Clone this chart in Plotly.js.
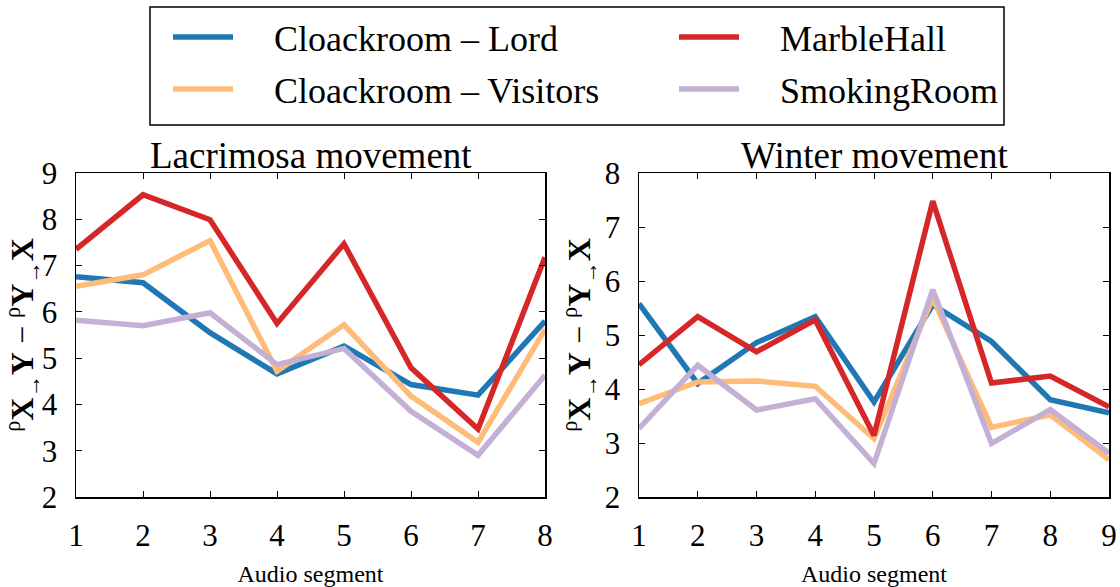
<!DOCTYPE html>
<html>
<head>
<meta charset="utf-8">
<script src="https://cdn.plot.ly/plotly-3.0.1.min.js"></script>
<style>html,body{margin:0;padding:0;background:#fff}#chart{width:1120px;height:587px}</style>
</head>
<body>
<div id="chart"></div>
<script>
// ---- data ----
const seriesNames = ["Cloackroom \u2013 Lord", "Cloackroom \u2013 Visitors", "MarbleHall", "SmokingRoom"];
const segLacrimosa = [1, 2, 3, 4, 5, 6, 7, 8];
const segWinter = [1, 2, 3, 4, 5, 6, 7, 8, 9];

const lacLord    = [6.76, 6.63, 5.55, 4.66, 5.26, 4.43, 4.20, 5.80];
const lacVisitors= [6.55, 6.80, 7.54, 4.72, 5.72, 4.18, 3.18, 5.62];
const lacMarble  = [7.35, 8.53, 7.99, 5.75, 7.47, 4.79, 3.47, 7.18];
const lacSmoking = [5.82, 5.70, 5.98, 4.86, 5.21, 3.85, 2.90, 4.63];

const winLord    = [5.58, 4.10, 4.86, 5.34, 3.76, 5.56, 4.88, 3.80, 3.56];
const winVisitors= [3.73, 4.13, 4.15, 4.05, 3.08, 5.68, 3.29, 3.52, 2.69];
const winMarble  = [4.45, 5.34, 4.69, 5.28, 3.14, 7.48, 4.11, 4.24, 3.67];
const winSmoking = [3.27, 4.44, 3.61, 3.82, 2.62, 5.84, 2.99, 3.62, 2.81];

const titles = ["Lacrimosa movement", "Winter movement"];
const xTitle = "Audio segment";
const yTitle = "<sup>\u03c1</sup><b>X</b><sub>\u2192</sub><b>Y</b> \u2212 <sup>\u03c1</sup><b>Y</b><sub>\u2192</sub><b>X</b>";

// ---- styling ----
const colors = ["#1f77b4", "#ffbb78", "#d62728", "#c5b0d5"];
const legendOf = ["legend", "legend2", "legend3", "legend4"];
const W = 1120, H = 587;
const px = x => x / W;
const py = y => 1 - y / H;
const FONT = "Liberation Serif, Times New Roman, serif";
const PAD = "\u2003";

const lacSeries = [lacLord, lacVisitors, lacMarble, lacSmoking];
const winSeries = [winLord, winVisitors, winMarble, winSmoking];

const traces = [];
lacSeries.forEach((ys, i) => traces.push({
  x: segLacrimosa, y: ys, type: "scatter", mode: "lines", name: PAD + seriesNames[i],
  line: {color: colors[i], width: 5.5}, xaxis: "x", yaxis: "y",
  legend: legendOf[i], showlegend: true
}));
winSeries.forEach((ys, i) => traces.push({
  x: segWinter, y: ys, type: "scatter", mode: "lines", name: seriesNames[i],
  line: {color: colors[i], width: 5.5}, xaxis: "x2", yaxis: "y2",
  showlegend: false
}));

const axisCommon = {
  showline: true, linecolor: "#000", linewidth: 1.5, mirror: "ticks",
  ticks: "inside", ticklen: 6, tickwidth: 1, tickcolor: "#000",
  showgrid: false, zeroline: false, automargin: false,
  tickfont: {family: FONT, size: 31, color: "#000"}
};
const yDom = [py(497), py(173)];

const legendCommon = {
  orientation: "h", xanchor: "left", yanchor: "middle",
  font: {family: FONT, size: 36, color: "#000"},
  bgcolor: "rgba(0,0,0,0)", borderwidth: 0,
  itemwidth: 60,
  itemclick: false, itemdoubleclick: false
};
const LX = 168, COL = 506, ROW1 = 37, ROW2 = 89;

const layout = {
  width: W, height: H,
  margin: {l: 0, r: 0, t: 0, b: 0},
  paper_bgcolor: "#fff", plot_bgcolor: "#fff",
  font: {family: FONT, color: "#000"},
  xaxis: Object.assign({}, axisCommon, {
    domain: [px(76), px(545)], range: [1, 8], anchor: "y",
    tickvals: segLacrimosa, ticklabelstandoff: 10,
    title: {text: xTitle, font: {family: FONT, size: 24}, standoff: 14}
  }),
  yaxis: Object.assign({}, axisCommon, {
    domain: yDom, range: [2, 9], anchor: "x", dtick: 1, ticklabelstandoff: 11,
    title: {text: yTitle, font: {family: FONT, size: 32}, standoff: 4}
  }),
  xaxis2: Object.assign({}, axisCommon, {
    domain: [px(639), px(1109)], range: [1, 9], anchor: "y2",
    tickvals: segWinter, ticklabelstandoff: 10,
    title: {text: xTitle, font: {family: FONT, size: 24}, standoff: 14}
  }),
  yaxis2: Object.assign({}, axisCommon, {
    domain: yDom, range: [2, 8], anchor: "x2", dtick: 1, ticklabelstandoff: 11,
    title: {text: yTitle, font: {family: FONT, size: 32}, standoff: 4}
  }),
  legend: Object.assign({}, legendCommon, {x: px(LX), y: py(ROW1)}),
  legend2: Object.assign({}, legendCommon, {x: px(LX), y: py(ROW2)}),
  legend3: Object.assign({}, legendCommon, {x: px(LX + COL), y: py(ROW1)}),
  legend4: Object.assign({}, legendCommon, {x: px(LX + COL), y: py(ROW2)}),
  shapes: [{
    type: "rect", xref: "paper", yref: "paper",
    x0: px(150), x1: px(1004), y0: py(125), y1: py(7),
    line: {color: "#000", width: 1.5}, fillcolor: "rgba(0,0,0,0)"
  }],
  annotations: titles.map((t, i) => ({
    text: t, xref: (i === 0 ? "x" : "x2") + " domain", yref: "paper",
    x: 0.5, y: py(155), xanchor: "center", yanchor: "middle",
    showarrow: false, font: {family: FONT, size: 37, color: "#000"}
  }))
};

Plotly.newPlot("chart", traces, layout, {staticPlot: true, displayModeBar: false});
</script>
</body>
</html>
